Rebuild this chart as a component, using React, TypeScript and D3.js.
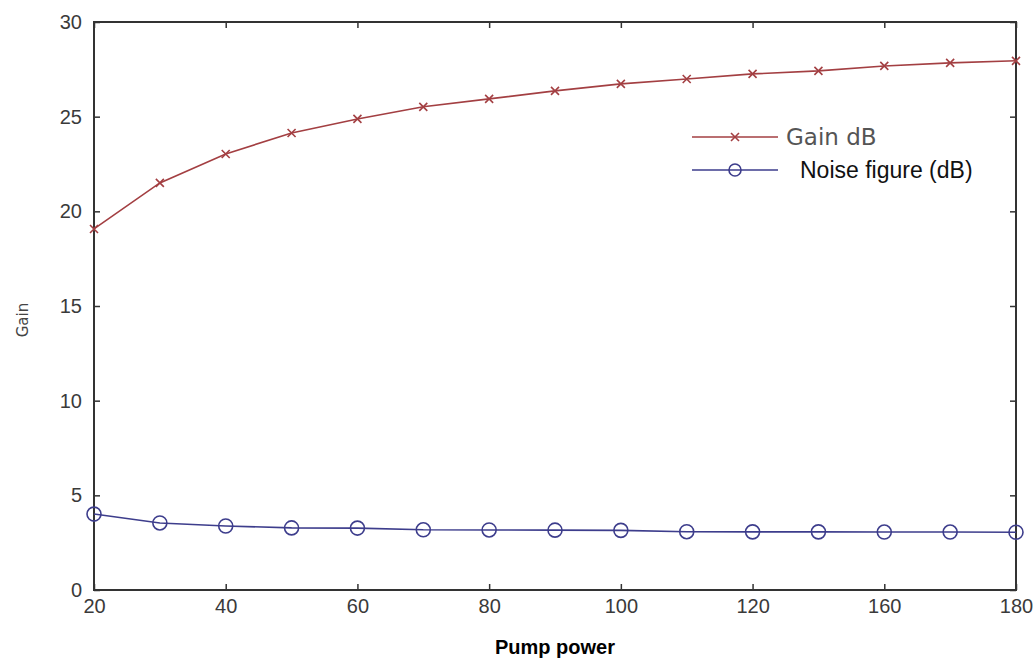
import React, { useEffect, useRef } from 'react';
import * as d3 from 'd3';

// pump power steps (mW), gain and noise figure
const pumpPower = [20, 30, 40, 50, 60, 70, 80, 90, 100, 110, 120, 130, 140, 150, 160];
const gainDb = [19.07, 21.5, 23.03, 24.14, 24.88, 25.52, 25.94, 26.36, 26.73, 26.99, 27.26, 27.42, 27.68, 27.84, 27.95];
const noiseFigure = [4.01, 3.54, 3.38, 3.28, 3.27, 3.18, 3.17, 3.16, 3.15, 3.08, 3.07, 3.07, 3.06, 3.06, 3.05];

const xTickValues = [20, 40, 60, 80, 100, 120, 140, 160];
// labels exactly as printed on the original figure
const xTickLabels = ['20', '40', '60', '80', '100', '120', '160', '180'];
const yTickValues = [0, 5, 10, 15, 20, 25, 30];

const W = 1033;
const H = 660;
const margin = { top: 22, right: 17, bottom: 70, left: 94 };

const gainColor = '#a33f42';
const noiseColor = '#3d3d8c';
const axisColor = '#333';

export default function App() {
  const ref = useRef<SVGSVGElement>(null);

  useEffect(() => {
    const svg = d3.select(ref.current);
    svg.selectAll('*').remove();

    const x = d3.scaleLinear().domain([20, 160]).range([margin.left, W - margin.right]);
    const y = d3.scaleLinear().domain([0, 30]).range([H - margin.bottom, margin.top]);

    const x0 = margin.left;
    const x1 = W - margin.right;
    const y0 = H - margin.bottom;
    const y1 = margin.top;

    const tickFont = (g: any) => {
      g.selectAll('text')
        .attr('fill', '#3a3a3a')
        .style('font-family', '"Liberation Sans", Arial, sans-serif')
        .style('font-size', '20px');
      g.selectAll('line').attr('stroke', axisColor).attr('stroke-width', 1.5);
      g.select('.domain').remove();
    };

    // bottom / top ticks
    svg.append('g')
      .attr('transform', `translate(0,${y0})`)
      .call(d3.axisBottom(x).tickValues(xTickValues)
        .tickFormat((d, i) => xTickLabels[i]).tickSizeInner(-6).tickSizeOuter(0).tickPadding(9))
      .call(tickFont);
    svg.append('g')
      .attr('transform', `translate(0,${y1})`)
      .call(d3.axisTop(x).tickValues(xTickValues).tickFormat(() => '').tickSizeInner(-6).tickSizeOuter(0))
      .call(tickFont);

    // left / right ticks
    svg.append('g')
      .attr('transform', `translate(${x0},0)`)
      .call(d3.axisLeft(y).tickValues(yTickValues).tickSizeInner(-6).tickSizeOuter(0).tickPadding(12))
      .call(tickFont);
    svg.append('g')
      .attr('transform', `translate(${x1},0)`)
      .call(d3.axisRight(y).tickValues(yTickValues).tickFormat(() => '').tickSizeInner(-6).tickSizeOuter(0))
      .call(tickFont);

    // frame
    svg.append('rect')
      .attr('x', x0).attr('y', y1)
      .attr('width', x1 - x0).attr('height', y0 - y1)
      .attr('fill', 'none').attr('stroke', axisColor).attr('stroke-width', 2);

    const seriesLine = d3.line<number>().x((d, i) => x(pumpPower[i])).y((d) => y(d));

    svg.append('path')
      .datum(gainDb)
      .attr('d', seriesLine)
      .attr('fill', 'none').attr('stroke', gainColor).attr('stroke-width', 1.6);
    svg.append('path')
      .datum(noiseFigure)
      .attr('d', seriesLine)
      .attr('fill', 'none').attr('stroke', noiseColor).attr('stroke-width', 1.6);

    const cross = (g: any, cx: number, cy: number, s: number) => {
      g.append('path')
        .attr('d', `M${cx - s},${cy - s}L${cx + s},${cy + s}M${cx - s},${cy + s}L${cx + s},${cy - s}`)
        .attr('stroke', gainColor).attr('stroke-width', 1.6).attr('fill', 'none');
    };

    const gainMarks = svg.append('g');
    gainDb.forEach((v, i) => cross(gainMarks, x(pumpPower[i]), y(v), 4));

    svg.append('g').selectAll('circle')
      .data(noiseFigure)
      .join('circle')
      .attr('cx', (d, i) => x(pumpPower[i]))
      .attr('cy', (d) => y(d))
      .attr('r', 7)
      .attr('fill', 'none')
      .attr('stroke', noiseColor)
      .attr('stroke-width', 1.6);

    // legend
    const lg = svg.append('g');
    lg.append('line').attr('x1', 692).attr('x2', 778).attr('y1', 137).attr('y2', 137)
      .attr('stroke', gainColor).attr('stroke-width', 1.6);
    cross(lg, 735, 137, 4);
    lg.append('text').attr('x', 786).attr('y', 137).attr('dy', '0.36em')
      .attr('fill', '#555')
      .style('font-family', '"DejaVu Sans", sans-serif').style('font-size', '23px')
      .text('Gain dB');

    lg.append('line').attr('x1', 692).attr('x2', 778).attr('y1', 170).attr('y2', 170)
      .attr('stroke', noiseColor).attr('stroke-width', 1.6);
    lg.append('circle').attr('cx', 735).attr('cy', 170).attr('r', 6)
      .attr('fill', 'none').attr('stroke', noiseColor).attr('stroke-width', 1.6);
    lg.append('text').attr('x', 800).attr('y', 170).attr('dy', '0.36em')
      .attr('fill', '#111')
      .style('font-family', '"Liberation Sans", Arial, sans-serif').style('font-size', '23px')
      .text('Noise figure (dB)');

    // axis titles
    svg.append('text')
      .attr('transform', `translate(28,${(y0 + y1) / 2 + 14}) rotate(-90)`)
      .attr('text-anchor', 'middle')
      .attr('fill', '#444')
      .style('font-family', '"DejaVu Sans", sans-serif').style('font-size', '15px')
      .text('Gain');

    svg.append('text')
      .attr('x', 555).attr('y', 654)
      .attr('text-anchor', 'middle')
      .attr('fill', '#000')
      .style('font-family', '"Liberation Sans", Arial, sans-serif')
      .style('font-size', '20px').style('font-weight', 'bold')
      .text('Pump power');
  }, []);

  return (
    <div style={{ position: 'absolute', left: 0, top: 0, background: '#fff' }}>
      <svg ref={ref} width={W} height={H} style={{ display: 'block' }} />
    </div>
  );
}
